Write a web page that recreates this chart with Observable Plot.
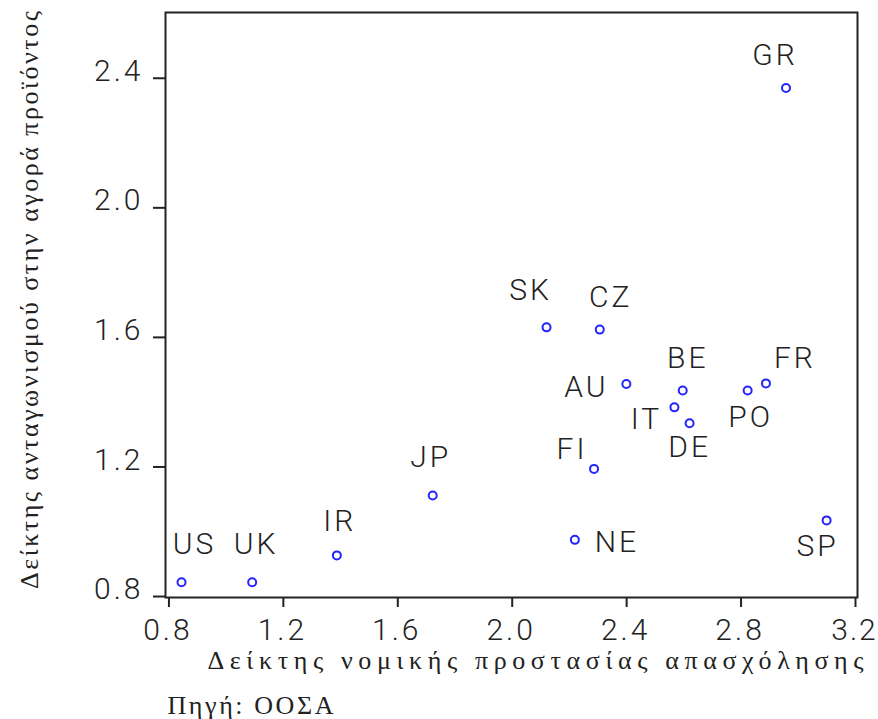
<!DOCTYPE html>
<html>
<head>
<meta charset="utf-8">
<script src="https://cdn.jsdelivr.net/npm/d3@7"></script>
<script src="https://cdn.jsdelivr.net/npm/@observablehq/plot@0.6"></script>
<style>
  body { margin: 0; background: #fff; }
  #chart svg { overflow: visible; }
  #chart svg text { letter-spacing: 3px; }
</style>
</head>
<body>
<div id="chart"></div>
<script>
// ---- data ----
const countries = ["US", "UK", "IR", "JP", "SK", "CZ", "AU", "BE", "IT", "DE", "PO", "FR", "FI", "NE", "SP", "GR"];
const employmentProtection = [0.844, 1.091, 1.387, 1.722, 2.120, 2.306, 2.399, 2.596, 2.567, 2.620, 2.823, 2.887, 2.286, 2.219, 3.099, 2.957];
const productMarketCompetition = [0.844, 0.844, 0.927, 1.112, 1.631, 1.624, 1.456, 1.436, 1.384, 1.335, 1.436, 1.458, 1.194, 0.975, 1.035, 2.370];
const xTicks = [0.8, 1.2, 1.6, 2.0, 2.4, 2.8, 3.2];
const yTicks = [0.8, 1.2, 1.6, 2.0, 2.4];
const xLabel = "Δείκτης νομικής προστασίας απασχόλησης";
const yLabel = "Δείκτης ανταγωνισμού στην αγορά προϊόντος";
const sourceNote = "Πηγή: ΟΟΣΑ";

const rows = countries.map((c, i) => ({country: c, x: employmentProtection[i], y: productMarketCompetition[i]}));

// label placement around each point (pixel offsets, styling only)
const labelOffset = {
  GR: [-12, -33], SK: [-17, -37], CZ: [10, -32], BE: [4, -32], FR: [28, -25],
  AU: [-41, 3], IT: [-29, 12], DE: [-1, 24], PO: [2, 27], FI: [-23, -20],
  NE: [41, 3], SP: [-10, 26], JP: [-3, -38], IR: [2, -34], US: [12, -38], UK: [3, -38]
};

const sans = "Roboto, 'Liberation Sans', Arial, sans-serif";
const serif = "'Liberation Serif', 'DejaVu Serif', serif";
const ink = "#222";
const fmt = d3.format(".1f");

const labelMarks = rows.map(r => Plot.text([r], {
  x: "x", y: "y", text: "country",
  dx: labelOffset[r.country][0] + 1, dy: labelOffset[r.country][1],
  fontSize: 30, fontFamily: sans, fontWeight: 300, fill: ink, lineAnchor: "middle"
}));

const chart = Plot.plot({
  width: 878,
  height: 719,
  marginLeft: 165,
  marginRight: 21,
  marginTop: 12,
  marginBottom: 122,
  style: {fontFamily: sans, color: ink, background: "#fff"},
  x: {domain: [0.788, 3.207], axis: null},
  y: {domain: [0.797, 2.603], axis: null},
  marks: [
    Plot.frame({stroke: ink, strokeWidth: 2}),
    Plot.axisX(xTicks, {tickSize: 10, tickFormat: () => "", strokeWidth: 2, stroke: ink, label: null}),
    Plot.text(xTicks, {x: d => d, text: d => fmt(d), frameAnchor: "bottom", textAnchor: "middle", lineAnchor: "top", dx: -1, dy: 21, fontSize: 30, fontWeight: 300, fontFamily: sans, fill: ink}),
    Plot.axisY(yTicks, {tickSize: 12, tickFormat: () => "", strokeWidth: 2, stroke: ink, label: null}),
    Plot.text(yTicks, {y: d => d, text: d => fmt(d), frameAnchor: "left", textAnchor: "end", lineAnchor: "middle", dx: -22, dy: -7, fontSize: 30, fontWeight: 300, fontFamily: sans, fill: ink}),
    Plot.dot(rows, {x: "x", y: "y", r: 4, stroke: "#2424ff", strokeWidth: 2, fill: "none"}),
    ...labelMarks,
    Plot.text([xLabel], {frameAnchor: "bottom", textAnchor: "middle", dx: 24, dy: 71, lineAnchor: "bottom", fontFamily: serif, fontSize: 26, fill: ink}),
    Plot.text([yLabel], {frameAnchor: "left", textAnchor: "middle", dx: -136, dy: -5, rotate: -90, lineAnchor: "middle", fontFamily: serif, fontSize: 26, fill: ink}),
    Plot.text([sourceNote], {frameAnchor: "bottom-left", textAnchor: "start", dx: 2, dy: 116, lineAnchor: "bottom", fontFamily: serif, fontSize: 26, fill: ink})
  ]
});

document.getElementById("chart").appendChild(chart);

// the last x tick label sits flush with the right edge: tighten its spacing slightly
chart.querySelectorAll("text").forEach(el => {
  if (el.textContent === fmt(xTicks[xTicks.length - 1])) el.style.letterSpacing = "2px";
});

// spread the serif labels to the reference widths via letter-spacing
const lengths = new Map([[xLabel, 656], [yLabel, 578], [sourceNote, 166]]);
chart.querySelectorAll("text").forEach(el => {
  const t = el.textContent;
  if (!lengths.has(t)) return;
  const target = lengths.get(t);
  el.style.letterSpacing = "0px";
  const len = el.getComputedTextLength();
  const n = Array.from(t).length;
  const ls = (target - len) / (n - 1);
  el.style.letterSpacing = ls + "px";
  if (t !== sourceNote) el.setAttribute("dx", ls / 2);
});
</script>
</body>
</html>
